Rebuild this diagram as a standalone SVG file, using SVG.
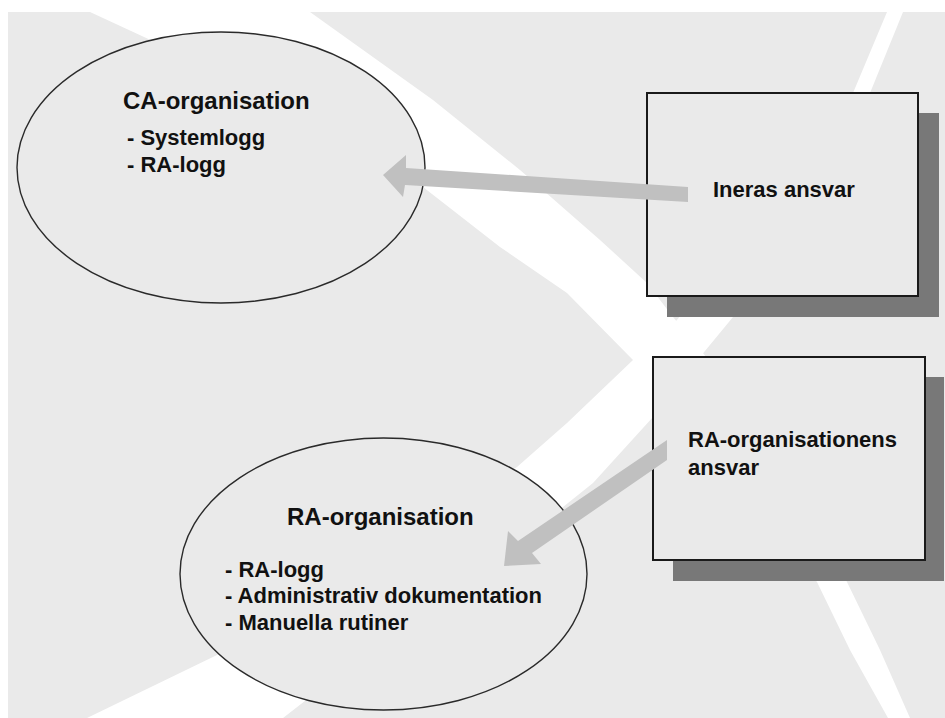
<svg xmlns="http://www.w3.org/2000/svg" width="945" height="718" viewBox="0 0 945 718">
<style>
.bg{fill:#eaeaea}
.sw{fill:#ffffff}
.ell{fill:#eaeaea;stroke:#2a2a2a;stroke-width:1.4}
.box{fill:#eaeaea;stroke:#1a1a1a;stroke-width:2}
.shadow{fill:#787878}
.arrow{fill:#c0c0c0}
text{font-family:"Liberation Sans",Arial,sans-serif;font-weight:bold;fill:#111111}
.t1{font-size:24px}
.t2{font-size:22px}
</style>
<rect x="0" y="0" width="945" height="718" fill="#ffffff"/>
<g id="background">
<rect class="bg" x="8" y="12" width="937" height="706"/>
<path class="sw" d="M90,12 L310,12 L433,100 L520,170 L600,240 L647,283 L673,317 L703,353 L780,460 L847,582 L880,650 L910,718 L888,718 L850,650 L817,582 L735,480 L653,383 L633,360 L567,293 L500,247 L423,187 L250,92 L157,43 Z"/>
<path class="sw" d="M887,12 L903,12 L870,93 L800,200 L733,317 L700,357 L653,417 L593,483 L563,507 L430,610 L310,697 L283,718 L87,718 L217,655 L380,550 L517,467 L567,423 L633,360 L677,320 L770,200 L853,93 Z"/>
</g>
<g id="ca-organisation">
<ellipse class="ell" cx="221" cy="167.5" rx="204" ry="135.5"/>
<text class="t1" x="123" y="109">CA-organisation</text>
<text class="t2" x="127" y="145">- Systemlogg</text>
<text class="t2" x="127" y="172">- RA-logg</text>
</g>
<g id="ra-organisation">
<ellipse class="ell" cx="383.5" cy="574" rx="203.5" ry="136"/>
<text class="t1" x="287" y="525">RA-organisation</text>
<text class="t2" x="225" y="577">- RA-logg</text>
<text class="t2" x="225" y="603">- Administrativ dokumentation</text>
<text class="t2" x="225" y="630">- Manuella rutiner</text>
</g>
<g id="ineras-ansvar">
<rect class="shadow" x="667" y="113" width="272" height="204"/>
<rect class="box" x="647" y="93" width="271" height="203"/>
<text class="t2" x="713" y="197">Ineras ansvar</text>
</g>
<g id="ra-organisationens-ansvar">
<rect class="shadow" x="673" y="377" width="271" height="204"/>
<rect class="box" x="653" y="357" width="272" height="203"/>
<text class="t2" x="688" y="447">RA-organisationens</text>
<text class="t2" x="688" y="475">ansvar</text>
</g>
<g id="connectors">
<polygon class="arrow" points="688,187 688,202 405,185 403,197 383,175 406,155 406,168"/>
<polygon class="arrow" points="667,440 667,460 532,553 541,564 504,566 508,531 518,541"/>
</g>
</svg>
